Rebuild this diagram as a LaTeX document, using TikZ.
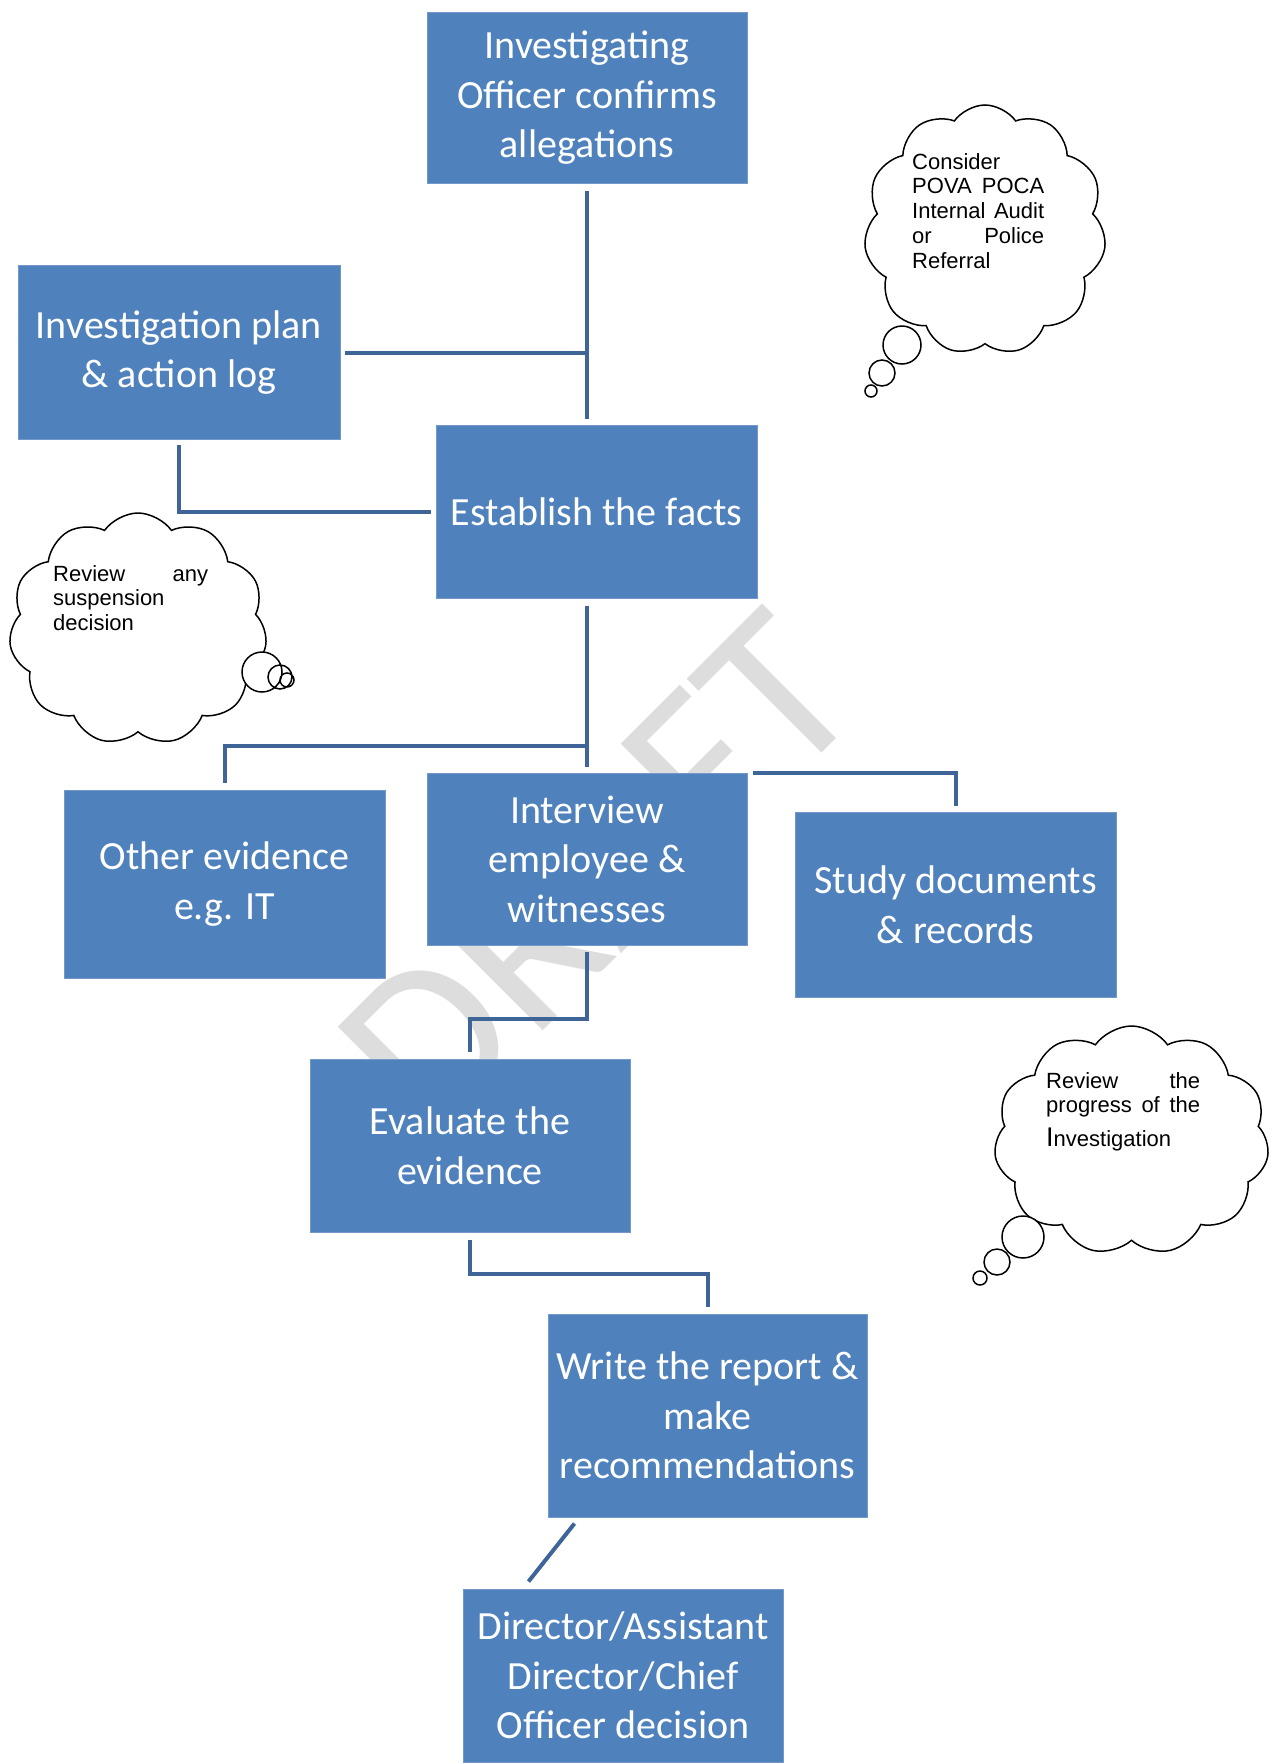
\documentclass[tikz,border=0pt]{standalone}
\usepackage{fontspec}
\setmainfont{Carlito}
\newfontfamily\cloudfont{Liberation Sans}
\usetikzlibrary{shapes.symbols}
\definecolor{boxblue}{RGB}{79,129,189}
\definecolor{boxedge}{RGB}{116,152,202}
\definecolor{linkblue}{RGB}{62,100,152}
\definecolor{markgray}{RGB}{221,221,221}
\tikzset{
 flowbox/.style={fill=boxblue,draw=boxedge,line width=1pt,text=white,align=center,
  font=\fontsize{40}{49.5}\selectfont,inner sep=0pt,minimum width=320pt},
 link/.style={draw=linkblue,line width=4pt},
 thought/.style={cloud,cloud puffs=11,cloud puff arc=110,draw,fill=white,line width=1.5pt,inner sep=0pt},
 thoughttext/.style={font=\cloudfont\fontsize{22}{24.75}\selectfont,align=left,anchor=north west,inner sep=0pt},
 bubble/.style={draw,fill=white,line width=1.5pt}
}

\begin{document}
\begin{tikzpicture}[x=1pt,y=-1pt]
 \useasboundingbox (0,0) rectangle (1279,1764);
 \node[text=markgray,rotate=45,font=\fontsize{230}{230}\selectfont] (draftmark) at (598,872) {DRAFT};

 \node[flowbox,minimum height=171pt] (confirm) at (587,98) {Investigating\\Officer confirms\\allegations};
 \node[flowbox,minimum width=322pt,minimum height=174pt] (plan) at (179,352.5) {Investigation plan\\\& action log};
 \node[flowbox,minimum width=321pt,minimum height=173pt] (facts) at (596.5,511.5) {Establish the facts};
 \node[flowbox,minimum width=321pt,minimum height=188pt] (other) at (224.5,884) {Other evidence\\e.g. IT};
 \node[flowbox,minimum height=172pt] (interview) at (587,859) {Interview\\employee \&\\witnesses};
 \node[flowbox,minimum width=321pt,minimum height=185pt] (study) at (955.5,904.5) {Study documents\\\& records};
 \node[flowbox,minimum height=173pt] (evaluate) at (470,1145.5) {Evaluate the\\evidence};
 \node[flowbox,minimum width=319pt,minimum height=203pt] (report) at (707.5,1415.5) {Write the report \&\\make\\recommendations};
 \node[flowbox,minimum height=173pt] (decision) at (623,1675.5) {Director/Assistant\\Director/Chief\\Officer decision};

 % connectors
 \draw[link,shorten <=7pt,shorten >=6pt] (confirm.south) -- (confirm.south |- facts.north);
 \draw[link,shorten <=4pt] (plan.east) -- (plan.east -| confirm.south);
 \draw[link,shorten <=5pt,shorten >=5pt] (plan.south) |- (facts.west);
 \coordinate (fork) at (587,746);
 \draw[link,shorten <=7pt,shorten >=6pt] (facts.south -| interview.north) -- (interview.north);
 \draw[link,shorten >=7pt] (fork) -| (other.north);
 \draw[link,shorten <=5pt,shorten >=6pt] (interview.north east) -| (study.north);
 \draw[link,shorten <=6pt,shorten >=7pt] (interview.south) -- ++(0,73) -| (evaluate.north);
 \draw[link,shorten <=7pt,shorten >=7pt] (evaluate.south) -- ++(0,41) -| (report.north);
 \draw[link] ([xshift=27pt,yshift=-6pt]report.south west) -- ([xshift=66pt,yshift=7pt]decision.north west);

 % thought clouds
 \node[thought,minimum width=242pt,minimum height=250pt] (referral) at (985,230) {};
 \draw[bubble] (902,345) circle[radius=19pt] (882,373) circle[radius=13pt] (871,391) circle[radius=6pt];
 \node[thoughttext,text width=132pt] (referraltext) at (912,153)
  {Consider\\POVA\hfill POCA\\Internal\hfill Audit\\or\hfill Police\\Referral};

 \node[thought,minimum width=258pt,minimum height=232pt] (suspension) at (138,629) {};
 \draw[bubble] (262,672) circle[radius=20pt] (280,677) circle[radius=12pt] (287,680) circle[radius=7pt];
 \node[thoughttext,text width=155pt] (suspensiontext) at (53,565)
  {Review\hfill any\\suspension\\decision};

 \node[thought,minimum width=275pt,minimum height=229pt] (progress) at (1131.5,1140.5) {};
 \draw[bubble] (1023,1237) circle[radius=21pt] (997,1262) circle[radius=13pt] (980,1278) circle[radius=7pt];
 \node[thoughttext,text width=154pt] (progresstext) at (1046,1072)
  {Review\hfill the\\progress\hfill of\hfill the\\[9pt]{\fontsize{27}{33}\selectfont I}nvestigation};
\end{tikzpicture}
\end{document}
